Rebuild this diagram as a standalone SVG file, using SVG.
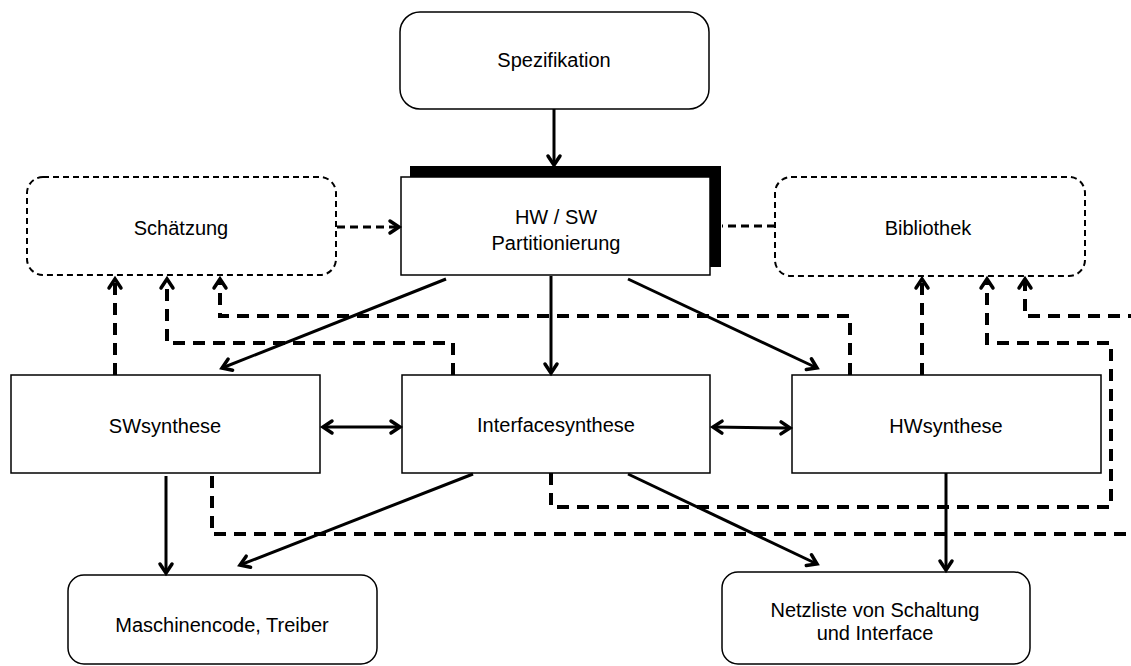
<svg xmlns="http://www.w3.org/2000/svg" width="1131" height="666" viewBox="0 0 1131 666">
<style>
text{font-family:"Liberation Sans",Arial,sans-serif;font-size:20px;fill:#000;text-anchor:middle}
.box{fill:#fff;stroke:#000;stroke-width:1.5}
.dbox{fill:#fff;stroke:#000;stroke-width:2;stroke-dasharray:6 4}
.sol{fill:none;stroke:#000;stroke-width:3}
.dsh{fill:none;stroke:#000;stroke-width:4;stroke-dasharray:12 8}
.dthin{fill:none;stroke:#000;stroke-width:3;stroke-dasharray:8 5}
</style>
<defs>
<marker id="ah" markerUnits="userSpaceOnUse" markerWidth="20" markerHeight="20" viewBox="-12 -10 16 20" refX="0" refY="0" orient="auto-start-reverse">
<path d="M-9,-6 L0,0 L-9,6" fill="none" stroke="#000" stroke-width="3.5" stroke-linecap="round" stroke-linejoin="miter"/>
</marker>
</defs>
<g id="spezifikation">
<rect class="box" x="400" y="12" width="309" height="97" rx="20"/>
<text x="554" y="67">Spezifikation</text>
</g>
<g id="partitionierung">
<rect x="410" y="166" width="311" height="101" fill="#000"/>
<rect class="box" x="401" y="177" width="309" height="98"/>
<text x="556" y="224">HW / SW</text>
<text x="556" y="250">Partitionierung</text>
</g>
<g id="schaetzung">
<rect class="dbox" x="27" y="177" width="309" height="98" rx="16"/>
<text x="181" y="235">Schätzung</text>
</g>
<g id="bibliothek">
<rect class="dbox" x="775" y="177" width="310" height="99" rx="16"/>
<text x="928" y="235">Bibliothek</text>
</g>
<g id="swsynthese">
<rect class="box" x="11" y="375" width="309" height="98"/>
<text x="165" y="433">SWsynthese</text>
</g>
<g id="interfacesynthese">
<rect class="box" x="402" y="375" width="308" height="98"/>
<text x="556" y="432">Interfacesynthese</text>
</g>
<g id="hwsynthese">
<rect class="box" x="792" y="375" width="309" height="98"/>
<text x="946" y="433">HWsynthese</text>
</g>
<g id="maschinencode">
<rect class="box" x="68" y="575" width="309" height="89" rx="16"/>
<text x="222" y="632">Maschinencode, Treiber</text>
</g>
<g id="netzliste">
<rect class="box" x="722" y="572" width="308" height="92" rx="16"/>
<text x="875" y="617">Netzliste von Schaltung</text>
<text x="875" y="640">und Interface</text>
</g>
<g id="connectors">
<line class="sol" x1="554" y1="109" x2="554" y2="165" marker-end="url(#ah)"/>
<line class="dthin" x1="337" y1="227" x2="399" y2="227" marker-end="url(#ah)"/>
<line class="dthin" x1="775" y1="226" x2="722" y2="226"/>
<line class="sol" x1="446" y1="279" x2="222" y2="368" marker-end="url(#ah)"/>
<line class="sol" x1="551" y1="276" x2="551" y2="373" marker-end="url(#ah)"/>
<line class="sol" x1="628" y1="279" x2="817" y2="368" marker-end="url(#ah)"/>
<line class="sol" x1="323" y1="427" x2="400" y2="427" marker-start="url(#ah)" marker-end="url(#ah)"/>
<line class="sol" x1="713" y1="427" x2="790" y2="428" marker-start="url(#ah)" marker-end="url(#ah)"/>
<line class="sol" x1="166" y1="476" x2="166" y2="573" marker-end="url(#ah)"/>
<line class="sol" x1="946" y1="473" x2="946" y2="570" marker-end="url(#ah)"/>
<line class="sol" x1="473" y1="474" x2="240" y2="565" marker-end="url(#ah)"/>
<line class="sol" x1="628" y1="474" x2="817" y2="564" marker-end="url(#ah)"/>
<path class="dsh" d="M115,375 L115,279" marker-end="url(#ah)"/>
<path class="dsh" d="M453,375 L453,343 L167,343 L167,279" marker-end="url(#ah)"/>
<path class="dsh" d="M850,375 L850,316 L220,316 L220,279" marker-end="url(#ah)"/>
<path class="dsh" d="M922,375 L922,279" marker-end="url(#ah)"/>
<path class="dsh" d="M551,473 L551,507 L1111,507 L1111,343 L987,343 L987,279" marker-end="url(#ah)"/>
<path class="dsh" d="M212,476 L212,534 L1140,534"/>
<path class="dsh" d="M1140,316 L1025,316 L1025,279" marker-end="url(#ah)"/>
</g>
</svg>
